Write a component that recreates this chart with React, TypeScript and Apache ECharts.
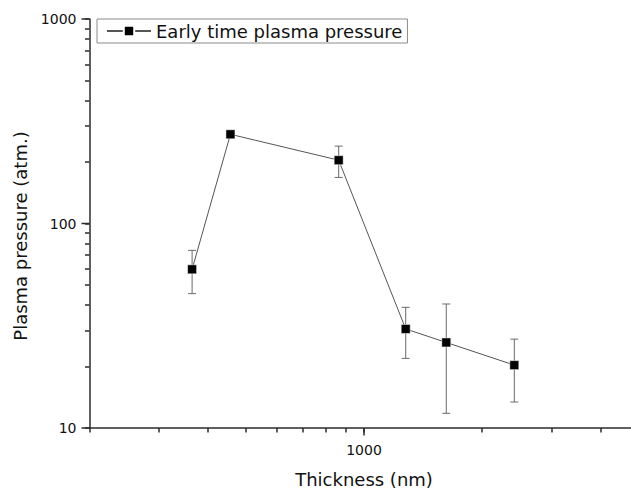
import React, { useEffect, useRef } from "react";
import * as echarts from "echarts";

const thickness = [365, 457, 862, 1277, 1620, 2414];
const pressure = [59.7, 273, 204, 30.5, 26.2, 20.3];
const errLow = [45.4, 273, 168, 21.9, 11.8, 13.4];
const errHigh = [73.9, 273, 239, 38.9, 40.4, 27.2];

const xMajorTicks = [1000];
const xMinorTicks = [200, 300, 400, 500, 600, 700, 800, 900, 2000, 3000, 4000, 5000];
const yMajorTicks = [10, 100, 1000];
const yMinorTicks = [20, 30, 40, 50, 60, 70, 80, 90, 200, 300, 400, 500, 600, 700, 800, 900];

const seriesName = "Early time plasma pressure";
const xTitle = "Thickness (nm)";
const yTitle = "Plasma pressure (atm.)";

const FONT = "DejaVu Sans";
const X_MIN = 200;
const X_MAX = 5000;
const Y_MIN = 10;
const Y_MAX = 1000;

export default function App() {
  const ref = useRef<HTMLDivElement>(null);
  useEffect(() => {
    if (!ref.current) return;
    const chart = echarts.init(ref.current, null, { renderer: "svg" });
    const axisColor = "#2b2b2b";
    const lineData = thickness.map((x, i) => [x, pressure[i]]);
    const errData = thickness.map((x, i) => [x, errLow[i], errHigh[i]]);
    const majorData = [
      ...xMajorTicks.map((v) => [v, Y_MIN, 0]),
      ...yMajorTicks.map((v) => [X_MIN, v, 1]),
    ];
    const fmt = (v: number) => String(Math.round(v));
    const tickStyle = { stroke: axisColor, lineWidth: 1.5 };
    chart.setOption({
      animation: false,
      backgroundColor: "#ffffff",
      grid: { left: 89.5, width: 549, top: 19, bottom: 61, containLabel: false, outerBoundsMode: "none" },
      legend: {
        data: [seriesName],
        left: 97,
        top: 19,
        orient: "horizontal",
        padding: [3, 5, 3, 9],
        borderColor: "#8a8a8a",
        borderWidth: 1,
        itemWidth: 44,
        itemHeight: 13,
        backgroundColor: "#ffffff",
        textStyle: { fontFamily: FONT, fontSize: 18, color: "#111" },
      },
      graphic: [
        {
          type: "text",
          x: 20,
          y: 236,
          rotation: Math.PI / 2,
          silent: true,
          style: {
            text: yTitle,
            fontFamily: FONT,
            fontSize: 18,
            fill: "#111",
            align: "center",
            verticalAlign: "middle",
          },
        },
      ],
      xAxis: {
        type: "log",
        logBase: 10,
        min: X_MIN,
        max: X_MAX,
        position: "bottom",
        splitLine: { show: false },
        minorTick: { show: false },
        name: xTitle,
        nameLocation: "middle",
        nameGap: 42,
        nameTextStyle: { fontFamily: FONT, fontSize: 18, color: "#111" },
        axisLine: { show: true, lineStyle: { color: axisColor, width: 1.5 } },
        axisTick: {
          show: true,
          inside: false,
          length: 4.5,
          customValues: [...xMinorTicks, ...xMajorTicks],
          lineStyle: { color: axisColor, width: 1.5 },
        },
        axisLabel: { show: true, customValues: xMajorTicks, formatter: fmt, margin: 15, fontFamily: FONT, fontSize: 14, color: "#111" },
      },
      yAxis: {
        type: "log",
        logBase: 10,
        min: Y_MIN,
        max: Y_MAX,
        position: "left",
        splitLine: { show: false },
        minorTick: { show: false },
        axisLine: { show: true, lineStyle: { color: axisColor, width: 1.5 } },
        axisTick: {
          show: true,
          inside: false,
          length: 4.5,
          customValues: [...yMinorTicks, ...yMajorTicks],
          lineStyle: { color: axisColor, width: 1.5 },
        },
        axisLabel: { show: true, customValues: yMajorTicks, formatter: fmt, margin: 13, fontFamily: FONT, fontSize: 14, color: "#111" },
      },
      series: [
        {
          type: "custom",
          data: majorData,
          encode: { x: 0, y: 1 },
          clip: false,
          silent: true,
          z: 5,
          renderItem: (params: any, api: any) => {
            const p = api.coord([api.value(0), api.value(1)]);
            const dir = api.value(2);
            if (dir === 0) {
              return { type: "line", shape: { x1: p[0], y1: p[1], x2: p[0], y2: p[1] + 7.5 }, style: tickStyle };
            }
            return { type: "line", shape: { x1: p[0] - 8, y1: p[1], x2: p[0], y2: p[1] }, style: tickStyle };
          },
        },
        {
          type: "custom",
          data: errData,
          encode: { x: 0, y: [1, 2] },
          z: 1,
          renderItem: (params: any, api: any) => {
            const x = api.value(0);
            const lo = api.value(1);
            const hi = api.value(2);
            const pLo = api.coord([x, lo]);
            const pHi = api.coord([x, hi]);
            const cap = 4;
            const style = { stroke: "#6a6a6a", lineWidth: 1 };
            return {
              type: "group",
              children: [
                { type: "line", shape: { x1: pLo[0], y1: pLo[1], x2: pHi[0], y2: pHi[1] }, style },
                { type: "line", shape: { x1: pLo[0] - cap, y1: pLo[1], x2: pLo[0] + cap, y2: pLo[1] }, style },
                { type: "line", shape: { x1: pHi[0] - cap, y1: pHi[1], x2: pHi[0] + cap, y2: pHi[1] }, style },
              ],
            };
          },
        },
        {
          name: seriesName,
          type: "line",
          data: lineData,
          z: 3,
          symbol: "rect",
          symbolSize: 9,
          itemStyle: { color: "#000000", borderColor: "#ffffff", borderWidth: 0.5 },
          lineStyle: { color: "#555555", width: 1 },
          emphasis: { disabled: true },
        },
      ],
    });
    return () => chart.dispose();
  }, []);
  return (
    <div
      ref={ref}
      style={{ position: "absolute", left: 0, top: 0, width: 631, height: 489 }}
    />
  );
}
